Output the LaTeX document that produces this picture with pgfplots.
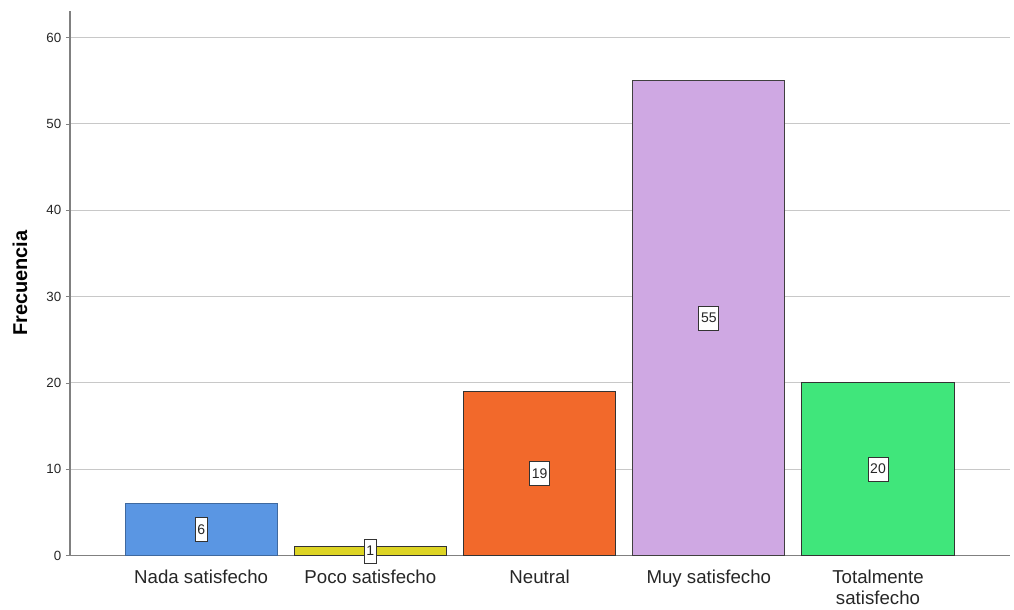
\documentclass[border=0pt]{standalone}
\usepackage{pgfplots}
\usepackage{pgfplotstable}
\pgfplotsset{compat=1.18}
\usepackage{fontspec}
\setmainfont{Liberation Sans}
\definecolor{cNada}{HTML}{5A96E3}
\definecolor{cPoco}{HTML}{DDD424}
\definecolor{cNeu}{HTML}{F2692B}
\definecolor{cMuy}{HTML}{CFA8E3}
\definecolor{cTot}{HTML}{40E67B}
\definecolor{gridc}{HTML}{C8C8C8}
\definecolor{axc}{HTML}{808080}
\pgfplotstableread{
x y lab
0 6 6
1 1 1
2 19 19
3 55 55
4 20 20
}\freq
\begin{document}
\begin{tikzpicture}
\path[use as bounding box] (0,0) rectangle (760.5pt,457.5pt);
\begin{axis}[
  at={(52.5pt,40.9pt)}, anchor=south west,
  scale only axis, width=705pt, height=408.6pt,
  xmin=-0.775, xmax=4.78, ymin=0, ymax=63.1,
  axis lines*=left,
  axis line style={axc, line width=0.9pt},
  ytick={0,10,...,60},
  xtick={0,1,2,3,4},
  xticklabels={Nada satisfecho,Poco satisfecho,Neutral,Muy satisfecho,{Totalmente\\satisfecho}},
  x tick label style={font=\fontsize{14}{15.5}\selectfont, align=center, text=black!85, yshift=-4.5pt},
  y tick label style={font=\fontsize{10}{12}\selectfont, text=black!85},
  /pgf/number format/assume math mode=true,
  major x tick style={draw=none},
  major y tick style={axc},
  tick align=outside,
  major tick length=3pt,
  ymajorgrids,
  grid style={gridc, line width=0.8pt},
  ylabel={\textbf{Frecuencia}},
  y label style={at={(axis description cs:-0.0532,0.5)}, anchor=center, font=\fontsize{15}{16}\selectfont},
  bar width=0.9, ybar, bar shift=0pt,
  clip=false,
]
\addplot[fill=cNada, draw=cNada!70!black, line width=0.5pt] table[x=x,y=y] {
x y
0 6
};
\addplot[fill=cPoco, draw=black!80, line width=0.8pt] table[x=x,y=y] {
x y
1 1
};
\addplot[fill=cNeu, draw=black!80, line width=0.8pt] table[x=x,y=y] {
x y
2 19
};
\addplot[fill=cMuy, draw=black!75, line width=0.8pt] table[x=x,y=y] {
x y
3 55
};
\addplot[fill=cTot, draw=black!80, line width=0.8pt] table[x=x,y=y] {
x y
4 20
};
\addplot[draw=none, mark=none, forget plot,
  nodes near coords, point meta=explicit symbolic,
  every node near coord/.style={anchor=center, fill=white, draw=black!80, line width=0.6pt,
    inner xsep=1.7pt, inner ysep=1pt, minimum height=18pt, font=\fontsize{10.5}{11}\selectfont, text=black!85}]
  table[x=x, y expr=\thisrow{y}/2, meta=lab] {\freq};
\end{axis}
\end{tikzpicture}
\end{document}
